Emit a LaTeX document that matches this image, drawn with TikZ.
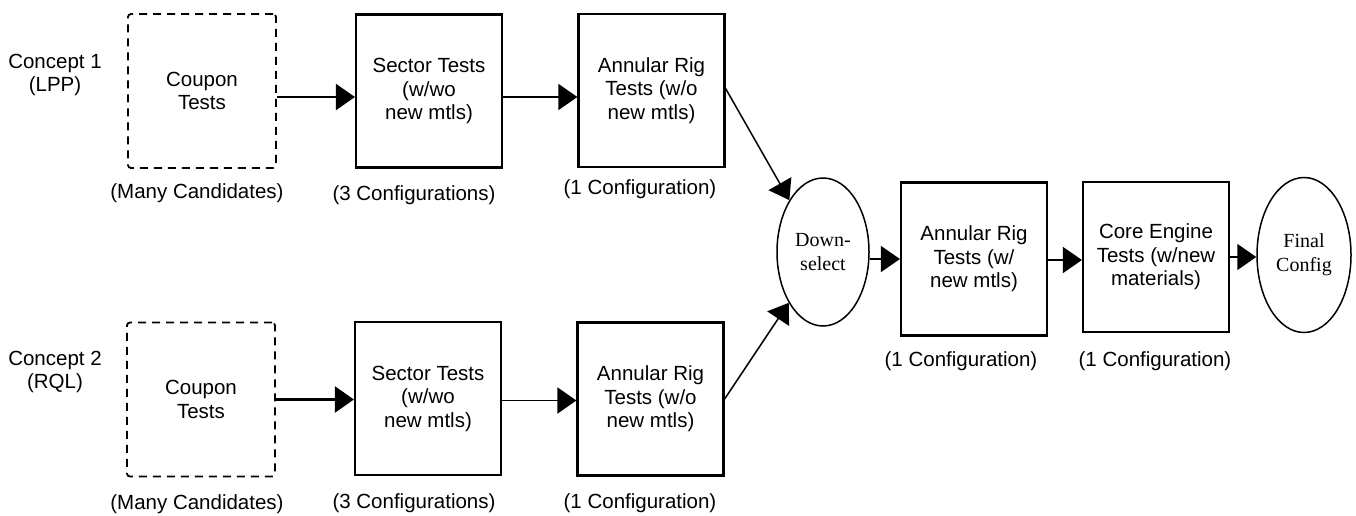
\documentclass[tikz,border=0pt]{standalone}
\usepackage{fontspec}
\setmainfont{Liberation Sans}
\newfontfamily\timesfam{Liberation Serif}
\usetikzlibrary{arrows.meta,shapes.geometric}
\begin{document}
\begin{tikzpicture}[x=1pt,y=-1pt,
  every node/.style={font=\fontsize{20.5}{23.5}\selectfont, align=center, inner sep=0pt},
  testbox/.style={draw, line width=2.2pt, minimum width=146pt, minimum height=153pt},
  couponbox/.style={draw, line width=1.8pt, dash pattern=on 8pt off 6pt, rounded corners=3pt,
                    minimum width=148pt, minimum height=154pt},
  oval/.style={draw, ellipse, line width=1.5pt, font=\timesfam\fontsize{20}{24}\selectfont},
  arr/.style={line width=1.5pt, -{Triangle[length=19pt,width=26pt]}},
  thickarr/.style={arr, line width=2.4pt}
]
\useasboundingbox (0,0) rectangle (1356,515);

% concept 1 track
\node (k1) at (55,75) {Concept 1\\(LPP)};
\node[couponbox] (c1) at (202,91) {Coupon\\Tests};
\node[testbox] (s1) at (429,91) {Sector Tests\\(w/wo\\new mtls)};
\node[testbox] (a1) at (651.5,90.5) {Annular Rig\\Tests (w/o\\new mtls)};
\node (lc1) at (197,193) {(Many Candidates)};
\node (ls1) at (414,195) {(3 Configurations)};
\node (la1) at (640,189) {(1 Configuration)};

% concept 2 track
\node (k2) at (55,372) {Concept 2\\(RQL)};
\node[couponbox] (c2) at (201,399.5) {Coupon\\Tests};
\node[testbox] (s2) at (428,398.5) {Sector Tests\\(w/wo\\new mtls)};
\node[testbox] (a2) at (650.5,399) {Annular Rig\\Tests (w/o\\new mtls)};
\node (lc2) at (197,504) {(Many Candidates)};
\node (ls2) at (414,503) {(3 Configurations)};
\node (la2) at (640,503) {(1 Configuration)};

% merged track
\node[oval, minimum width=92pt, minimum height=148pt] (ds) at (823,252) {Down-\\select};
\node[testbox] (a3) at (974,259) {Annular Rig\\Tests (w/\\new mtls)};
\node[testbox, minimum height=150pt] (ce) at (1156,257) {Core Engine\\Tests (w/new\\materials)};
\node[oval, minimum width=94pt, minimum height=155pt] (fc) at (1304,255) {Final\\Config};
\node (la3) at (961,361) {(1 Configuration)};
\node (lce) at (1155,361) {(1 Configuration)};

% connectors
\draw[thickarr] ([yshift=-6pt]c1.east) -- ([yshift=-6pt]c1.east -| s1.west);
\draw[arr] ([yshift=-6pt]s1.east) -- ([yshift=-6pt]s1.east -| a1.west);
\draw[thickarr] (c2.east) -- (c2.east -| s2.west);
\draw[arr] ([yshift=-2pt]s2.east) -- ([yshift=-2pt]s2.east -| a2.west);
\draw[arr] ([yshift=2pt]a1.east) -- (ds.123);
\draw[arr] (a2.east) -- (ds.236);
\draw[arr] (ds.east |- a3.west) -- (a3.west);
\draw[arr] ([yshift=-1pt]a3.east) -- ([yshift=-1pt]a3.east -| ce.west);
\draw[arr] (ce.east) -- (ce.east -| fc.west);
\end{tikzpicture}
\end{document}
